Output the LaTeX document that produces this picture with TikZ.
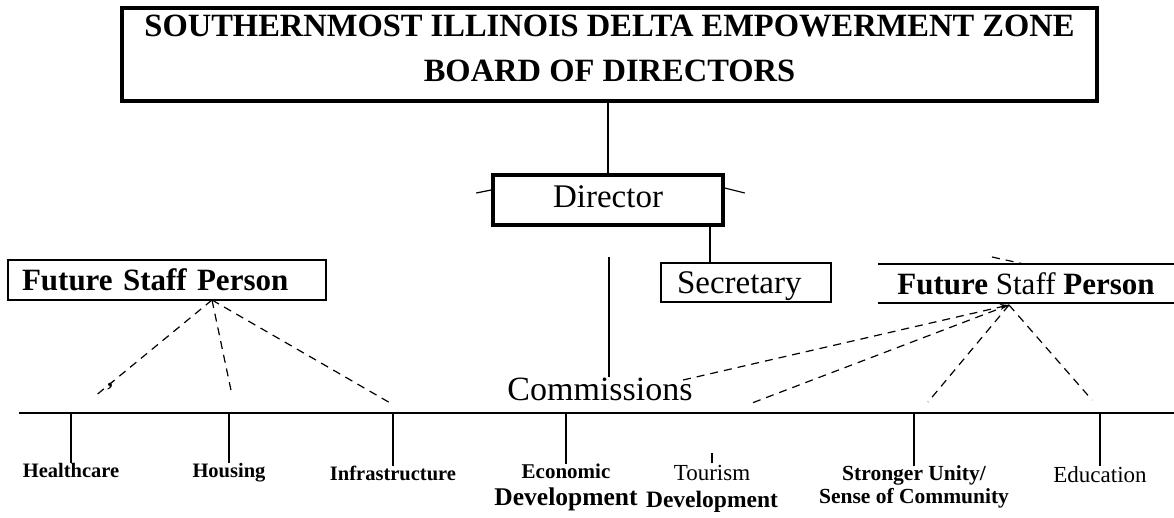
\documentclass[tikz,border=0pt]{standalone}
\usepackage{fontspec}
\setmainfont{Liberation Serif}
\usetikzlibrary{arrows.meta}

\begin{document}
\begin{tikzpicture}[x=1pt, y=-1pt,
    every node/.style={inner sep=0pt},
    dashline/.style={dash pattern=on 8pt off 6pt, line width=1.2pt},
    lab/.style={font=\bfseries\fontsize{20.5}{27}\selectfont, align=center, anchor=north},
    tick/.style={line width=2pt}]
  \useasboundingbox (0,0) rectangle (1174,517);

  \node[draw, line width=4pt, minimum width=975pt, minimum height=93pt] (board) at (609.5,54.5) {};
  \node[anchor=north, align=center, font=\bfseries\fontsize{32.5}{45}\selectfont] (boardtxt) at (609.5,15)
    {SOUTHERNMOST ILLINOIS DELTA EMPOWERMENT ZONE\\BOARD OF DIRECTORS};
  \node[draw, line width=3.5pt, minimum width=230pt, minimum height=50pt, text height=23pt, text depth=8pt,
    font=\fontsize{33}{36}\selectfont] (dir) at (608,200) {Director};
  \node[draw, line width=1.2pt, minimum height=39pt, text width=138pt, inner xsep=16pt, align=left,
    text height=22pt, text depth=1pt, font=\fontsize{33}{36}\selectfont] (sec) at (746,282.5) {Secretary};
  \node[draw, line width=1.2pt, minimum height=40pt, text width=290pt, inner xsep=14pt, align=left,
    font=\bfseries\fontsize{31}{34}\selectfont] (fspl) at (167,280) {Future Staff Person};
  \node[minimum width=296pt, minimum height=39pt, font=\fontsize{31}{34}\selectfont] (fspr) at (1026,283.5)
    {\textbf{Future} Staff \textbf{Person}};
  \node[anchor=base, font=\fontsize{34}{36}\selectfont] (comm) at (600,400) {Commissions};

  \node[lab] (health)  at (71,463)  {Healthcare};
  \node[lab] (housing) at (229,463) {Housing};
  \node[lab] (infra)   at (393,466) {Infrastructure};
  \node[lab, font=\bfseries\fontsize{21}{27}\selectfont] (econ) at (566,464)
    {Economic\\\fontsize{25.5}{27}\selectfont Development};
  \node[lab] (tour)    at (712,465) {\mdseries\fontsize{23}{25}\selectfont Tourism\\\bfseries\fontsize{23.5}{25}\selectfont Development};
  \node[lab, font=\bfseries\fontsize{21.5}{23}\selectfont] (unity) at (914,465.5) {Stronger Unity/\\Sense of Community};
  \node[lab, font=\fontsize{23}{25}\selectfont] (edu) at (1100,466) {Education};
  \node[anchor=base, font=\bfseries\fontsize{22}{24}\selectfont] (comma) at (110,386) {,};

  \coordinate (secx) at (710,0);
  \coordinate (commtop) at (609,257);
  \coordinate (railw) at (19,413);
  \coordinate (raile) at (1174,413);

  \draw[line width=1.3pt] (board.south -| dir.north) -- (dir.north);
  \draw[line width=1.4pt] (dir.south -| secx) -- (sec.north -| secx);
  \draw[line width=2pt] (commtop) -- (commtop |- comm.north);
  \draw[line width=1.2pt] (dir.west) ++(-15,-7) -- ++(15,-3);
  \draw[line width=1.2pt] (dir.east) ++(0,-12) -- ++(20,5);
  \draw[line width=1.8pt] (fspr.north west) -- (fspr.north east);
  \draw[line width=1.8pt] (fspr.south west) -- (fspr.south east);

  \draw[line width=2.2pt] (railw) -- (raile);
  \draw[tick] (health |- railw) -- (health);
  \draw[tick] (housing |- railw) -- (housing);
  \draw[tick] (infra |- railw) -- (infra);
  \draw[tick] (econ |- railw) -- (econ);
  \draw[tick] (unity |- railw) -- (unity);
  \draw[tick] (edu |- railw) -- (edu);
  \draw[line width=1.5pt] (tour.north) ++(0,-2) -- ++(0,-10);

  \coordinate (lo) at (212,300);
  \coordinate (lh) at (94,397);
  \coordinate (lho) at (232,395);
  \coordinate (li) at (392,404);
  \draw[dashline] (lo) -- (lh);
  \draw[dashline] (lo) -- (lho);
  \draw[dashline] (lo) -- (li);

  \coordinate (ro) at (1009,305);
  \coordinate (ra) at (683,380);
  \coordinate (rb) at (752,403);
  \coordinate (rc) at (928,402);
  \coordinate (rd) at (1092,400);
  \draw[dashline, -{Stealth[length=9pt, width=6pt]}] (ra) -- (ro);
  \draw[dashline] (ro) -- (rb);
  \draw[dashline] (ro) -- (rc);
  \draw[dashline] (ro) -- (rd);
  \draw[dashline] (992,257) -- (1024,264);
\end{tikzpicture}
\end{document}
